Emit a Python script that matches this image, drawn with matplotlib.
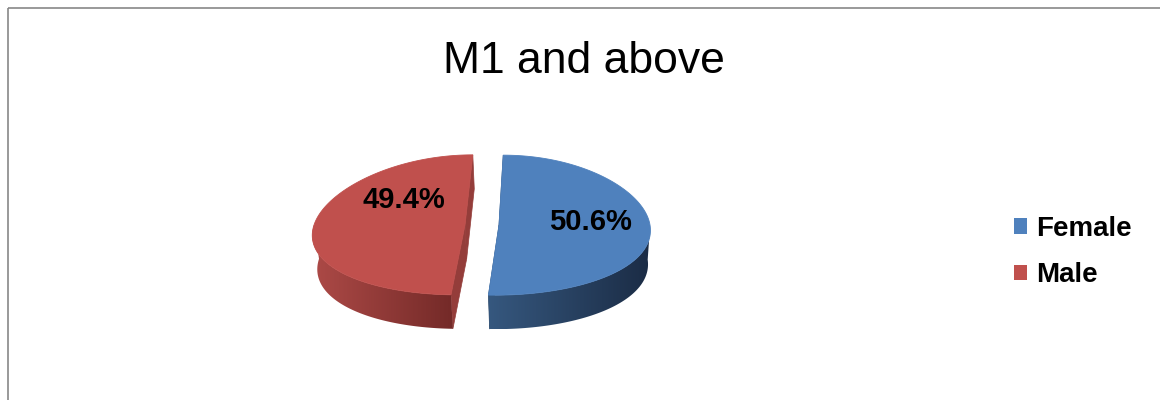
import numpy as np
import matplotlib.pyplot as plt
from matplotlib.patches import Polygon, Rectangle, Patch
from matplotlib.colors import to_rgb

labels = ['Female', 'Male']
shares = [50.6, 49.4]
top_colors = ['#4f81bd', '#c0504d']
side_light = ['#36587f', '#ad4a47']
side_dark = ['#1b2c45', '#742a28']
cut_colors = ['#2c4868', '#943d3a']
label_xy = [(590, 230), (404, 208)]

W, H = 1160, 400
fig = plt.figure(figsize=(W / 100, H / 100), dpi=100)
ax = fig.add_axes([0, 0, 1, 1])

# pie geometry (pixels, y grows downward)
cx, cy = 482, 225
rx, ry = 151, 70
depth = 34
explode = 17
vp_x, vp_y = 540, -450
shrink = 0.978  # bottom rim sits a little further from the eye


def project(px, py):
    # lines running into the page converge on a vanishing point above the pie
    f = (py - vp_y) / (cy - vp_y)
    return vp_x + (px - vp_x) * f, py


def lower(p):
    return vp_x + (p[0] - vp_x) * shrink, p[1] + depth


def rim(t, ox, oy):
    px = cx + ox + rx * np.cos(t)
    py = cy + oy - ry * np.sin(t)
    return project(px, py)


def gradient_fill(poly, c0, c1):
    xs = poly[:, 0]
    grad = np.linspace(0, 1, 256)[None, :, None]
    img = (1 - grad) * np.array(to_rgb(c0)) + grad * np.array(to_rgb(c1))
    clip = Polygon(poly, closed=True, facecolor='none', edgecolor='none')
    ax.add_patch(clip)
    im = ax.imshow(img, extent=(xs.min(), xs.max(), poly[:, 1].max(), poly[:, 1].min()),
                   aspect='auto', interpolation='bilinear', zorder=2)
    im.set_clip_path(clip)


total = sum(shares)
start = 90.0
for i, v in enumerate(shares):
    sweep = 360.0 * v / total
    t1, t2 = np.radians(start), np.radians(start - sweep)
    start -= sweep
    mid = (t1 + t2) / 2
    ox = explode * np.cos(mid)
    oy = -explode * np.sin(mid) * ry / rx
    c = project(cx + ox, cy + oy)

    ts = np.linspace(t1, t2, 400)
    arc = np.array([rim(t, ox, oy) for t in ts])

    # cut faces along the two straight edges
    for t in (t1, t2):
        p = rim(t, ox, oy)
        quad = [c, p, lower(p), lower(c)]
        ax.add_patch(Polygon(quad, closed=True, facecolor=cut_colors[i],
                             edgecolor=cut_colors[i], lw=0.5, zorder=1))

    # front rim
    front = arc[np.sin(ts) <= 1e-9]
    if len(front) > 1:
        bottom = np.array([lower(p) for p in front])
        side = np.vstack([front, bottom[::-1]])
        gradient_fill(side, side_light[i], side_dark[i])

    # top face
    top = np.vstack([[c], arc])
    ax.add_patch(Polygon(top, closed=True, facecolor=top_colors[i],
                         edgecolor=top_colors[i], lw=0.6, zorder=3))

    ax.text(label_xy[i][0], label_xy[i][1], f'{v:.1f}%', ha='center', va='baseline',
            fontsize=21, fontweight='bold', family='Liberation Sans', zorder=4)

ax.text(584, 73, 'M1 and above', ha='center', va='baseline', fontsize=32,
        family='Liberation Sans')

handles = [Patch(facecolor=col, edgecolor='none') for col in top_colors]
ax.legend(handles, labels, loc='center left', bbox_to_anchor=(1014 / W, 1 - 252 / H),
          frameon=False, borderpad=0, borderaxespad=0, handlelength=0.47,
          handleheight=0.47, handletextpad=0.32, labelspacing=0.73,
          prop={'family': 'Liberation Sans', 'weight': 'bold', 'size': 20})

# chart area outline, cut off on the right and bottom
ax.add_patch(Rectangle((8, 8), 1300, 600, facecolor='none', edgecolor='#878787', lw=1.2))

ax.set_xlim(0, W)
ax.set_ylim(H, 0)
ax.axis('off')
fig.savefig('out.png', dpi=100, facecolor='white')
